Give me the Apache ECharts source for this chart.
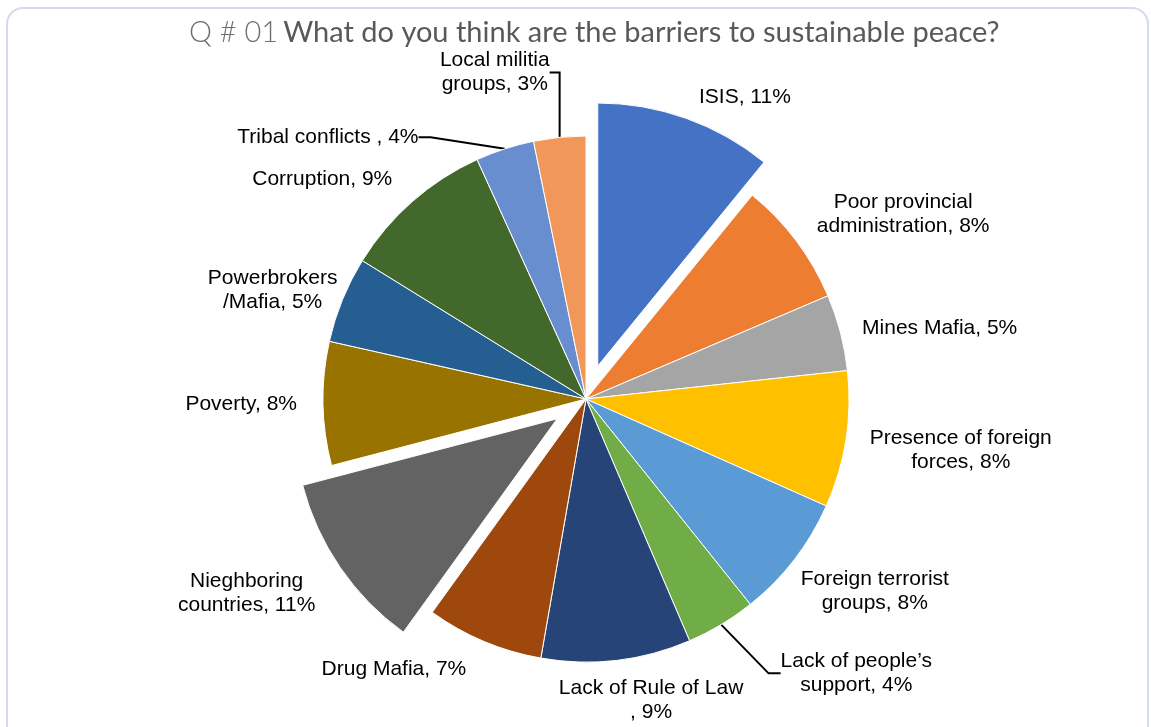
<!DOCTYPE html>
<html>
<head>
<meta charset="utf-8">
<script src="https://cdn.jsdelivr.net/npm/echarts@6/dist/echarts.min.js"></script>
<style>
html,body{margin:0;padding:0;background:#fff;}
#chart{width:1151px;height:727px;}
</style>
</head>
<body>
<div id="chart"></div>
<script>
// ---- data ----
const categories = [
  'ISIS',
  'Poor provincial\nadministration',
  'Mines Mafia',
  'Presence of foreign\nforces',
  'Foreign terrorist\ngroups',
  'Lack of people\u2019s\nsupport',
  'Lack of Rule of Law\n',
  'Drug Mafia',
  'Nieghboring\ncountries',
  'Poverty',
  'Powerbrokers\n/Mafia',
  'Corruption',
  'Tribal conflicts ',
  'Local militia\ngroups'
];
const values = [10.9, 7.7, 4.7, 8.4, 7.6, 4.3, 9.2, 7.2, 11.0, 7.6, 5.3, 9.4, 3.6, 3.2];
const colors = ['#4472C4','#ED7D31','#A5A5A5','#FFC000','#5B9BD5','#70AD47','#264478','#9E480E','#636363','#997300','#255E91','#43682B','#698ED0','#F1975A'];
const explodedSlices = ['ISIS', 'Nieghboring\ncountries'];
const leaderLineSlices = ['Lack of people\u2019s\nsupport', 'Tribal conflicts ', 'Local militia\ngroups'];

// label nudges (dx, dy) relative to the library's own outside-label placement
const labelNudges = [
  [4, -10], [6, -19], [5, -1], [7, 9], [-8, 24], [27, 23], [-64, 28],
  [-8, 17], [-10, 19], [-9, 0], [11, -5], [-7, -13], [-60, 17], [10, -35]
];

const CX = 586, CY = 399, R = 263, EXPLODE = 35;
const total = values.reduce((a, b) => a + b, 0);

function explodedCenter(idx) {
  let cum = 0;
  for (let i = 0; i < idx; i++) cum += values[i];
  const mid = (cum + values[idx] / 2) / total * Math.PI * 2;
  return [CX + EXPLODE * Math.sin(mid), CY - EXPLODE * Math.cos(mid)];
}

const chart = echarts.init(document.getElementById('chart'), null, {renderer: 'canvas'});

function buildData(visible) {
  return categories.map((name, i) => {
    const show = visible(i);
    const item = {
      name: name,
      value: values[i],
      itemStyle: show ? {color: colors[i]} : {color: 'rgba(0,0,0,0)', borderWidth: 0},
      label: {show: show}
    };
    if (show && leaderLineSlices.indexOf(name) >= 0) {
      item.labelLine = {show: true, length: 30, length2: 12};
    }
    return item;
  });
}

function pieSeries(center, visible) {
  return {
    type: 'pie',
    center: center,
    radius: R,
    startAngle: 90,
    clockwise: true,
    avoidLabelOverlap: false,
    silent: true,
    emphasis: {disabled: true},
    itemStyle: {borderColor: '#ffffff', borderWidth: 1},
    label: {
      show: true,
      position: 'outside',
      fontFamily: 'Liberation Sans',
      fontSize: 21,
      lineHeight: 24,
      color: '#000',
      formatter: p => p.name + ', ' + Math.round(p.value) + '%'
    },
    labelLine: {show: false, length: 12, length2: 0, lineStyle: {color: '#000', width: 2}},
    labelLayout: function (params) {
      const r = params.labelRect;
      const n = labelNudges[params.dataIndex] || [0, 0];
      return {
        x: r.x + r.width / 2 + n[0],
        y: r.y + r.height / 2 + n[1],
        align: 'center',
        verticalAlign: 'middle'
      };
    },
    data: buildData(visible)
  };
}

const series = [pieSeries([CX, CY], i => explodedSlices.indexOf(categories[i]) < 0)];
explodedSlices.forEach(name => {
  const idx = categories.indexOf(name);
  series.push(pieSeries(explodedCenter(idx), i => i === idx));
});

chart.setOption({
  animation: false,
  backgroundColor: '#fff',
  graphic: [{
    type: 'rect',
    shape: {x: 7, y: 8, width: 1141, height: 740, r: 16},
    style: {fill: 'none', stroke: '#d3dcee', lineWidth: 2},
    silent: true,
    z: -1
  }],
  title: {
    text: '{a|Q # 01} {b|What do you think are the barriers to sustainable peace?}',
    left: 184,
    top: 13,
    textStyle: {
      rich: {
        a: {fontFamily: 'Lato', fontWeight: 300, fontSize: 29, color: '#6f6f6f'},
        b: {fontFamily: 'Lato', fontWeight: 400, fontSize: 29, color: '#595959'}
      }
    }
  },
  series: series
});
</script>
</body>
</html>
